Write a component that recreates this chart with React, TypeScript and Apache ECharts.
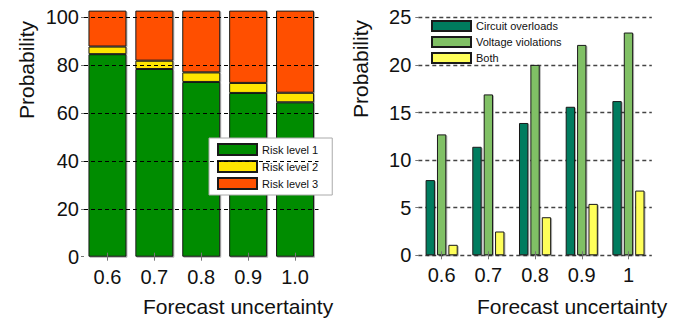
import React, { useEffect, useRef } from "react";
import * as echarts from "echarts";

const leftCategories = ["0.6", "0.7", "0.8", "0.9", "1.0"];
const risk1 = [84.6, 78.4, 73.0, 68.4, 64.5];
const risk2 = [3.2, 3.5, 4.0, 4.2, 4.0];
const risk3 = [15.0, 20.9, 25.8, 30.2, 34.3];

const rightCategories = ["0.6", "0.7", "0.8", "0.9", "1"];
const circuitOverloads = [7.9, 11.4, 13.9, 15.6, 16.2];
const voltageViolations = [12.7, 16.9, 20.0, 22.1, 23.4];
const bothViolations = [1.1, 2.5, 4.0, 5.4, 6.8];

const FONT = "Liberation Sans";

export default function App() {
  const ref = useRef<HTMLDivElement>(null);
  useEffect(() => {
    if (!ref.current) return;
    const chart = echarts.init(ref.current, undefined, { renderer: "svg" });
    const barBorder = {
      borderColor: "#1a1a1a", borderWidth: 1,
      shadowColor: "rgba(0,0,0,0.3)", shadowBlur: 0, shadowOffsetX: 1, shadowOffsetY: 1,
    };
    const tickStyle = { color: "#777", width: 1 };
    const option: any = {
      animation: false,
      backgroundColor: "#fff",
      textStyle: { fontFamily: FONT },
      grid: [
        { left: 84, right: 370.5, top: 17.3, bottom: 68.3 },
        { left: 418.3, right: 37.2, top: 17.3, bottom: 69.7 },
      ],
      xAxis: [
        {
          gridIndex: 0, type: "category", data: leftCategories, z: 5, position: "bottom",
          axisLine: { show: false },
          axisTick: { show: true, length: 4, lineStyle: tickStyle, alignWithLabel: true },
          axisLabel: { fontSize: 20, color: "#111", margin: 10, fontFamily: FONT },
        },
        {
          gridIndex: 0, type: "category", data: leftCategories, z: 5, position: "bottom",
          axisLine: { show: false },
          axisTick: { show: true, inside: true, length: 4, lineStyle: tickStyle, alignWithLabel: true },
          axisLabel: { show: false },
        },
        {
          gridIndex: 1, type: "category", data: rightCategories, z: 5, position: "bottom",
          axisLine: { show: false },
          axisTick: { show: true, length: 4, lineStyle: tickStyle, alignWithLabel: true },
          axisLabel: { fontSize: 20, color: "#111", margin: 10, fontFamily: FONT },
        },
        {
          gridIndex: 1, type: "category", data: rightCategories, z: 5, position: "bottom",
          axisLine: { show: false },
          axisTick: { show: true, inside: true, length: 4, lineStyle: tickStyle, alignWithLabel: true },
          axisLabel: { show: false },
        },
      ],
      yAxis: [
        {
          gridIndex: 0, type: "value", min: 0, max: 100, interval: 20, z: 5,
          axisLine: { show: false },
          axisTick: { show: true, length: 3, lineStyle: tickStyle },
          axisLabel: { fontSize: 20, color: "#111", margin: 5, fontFamily: FONT },
          splitLine: { show: true, showMinLine: false, lineStyle: { color: "#000", type: [4, 3], width: 1 } },
        },
        {
          gridIndex: 1, type: "value", min: 0, max: 25, interval: 5,
          axisLine: { show: false },
          axisTick: { show: true, length: 3, lineStyle: tickStyle },
          axisLabel: { fontSize: 20, color: "#111", margin: 7, fontFamily: FONT },
          splitLine: { show: true, lineStyle: { color: "#444", type: [4, 3], width: 1.3 } },
        },
      ],
      legend: [
        {
          data: ["Risk level 1", "Risk level 2", "Risk level 3"],
          orient: "vertical", left: 209, top: 138,
          padding: [5, 14, 5, 8],
          itemWidth: 39, itemHeight: 11, itemGap: 4,
          backgroundColor: "#fff", borderColor: "#aaa", borderWidth: 1,
          textStyle: { fontSize: 11, lineHeight: 11, color: "#111", fontFamily: FONT },
          icon: "rect",
        },
        {
          data: ["Circuit overloads", "Voltage violations", "Both"],
          orient: "vertical", left: 431, top: 20,
          padding: 0,
          itemWidth: 39, itemHeight: 10, itemGap: 4,
          textStyle: { fontSize: 11, lineHeight: 11, color: "#111", fontFamily: FONT },
          icon: "rect",
        },
      ],
      series: [
        {
          name: "Risk level 1", type: "bar", stack: "risk", data: risk1,
          xAxisIndex: 0, yAxisIndex: 0, barWidth: "81%", clip: false,
          itemStyle: { color: "#008c00", ...barBorder },
        },
        {
          name: "Risk level 2", type: "bar", stack: "risk", data: risk2,
          xAxisIndex: 0, yAxisIndex: 0, barWidth: "81%", clip: false,
          itemStyle: { color: "#ffe500", ...barBorder },
        },
        {
          name: "Risk level 3", type: "bar", stack: "risk", data: risk3,
          xAxisIndex: 0, yAxisIndex: 0, barWidth: "81%", clip: false,
          itemStyle: { color: "#ff5000", ...barBorder },
        },
        {
          name: "Circuit overloads", type: "bar", data: circuitOverloads,
          xAxisIndex: 2, yAxisIndex: 1, barWidth: "20%", barGap: "22%",
          itemStyle: { color: "#007c5e", ...barBorder },
        },
        {
          name: "Voltage violations", type: "bar", data: voltageViolations,
          xAxisIndex: 2, yAxisIndex: 1, barWidth: "20%", barGap: "22%",
          itemStyle: { color: "#80c065", ...barBorder },
        },
        {
          name: "Both", type: "bar", data: bothViolations,
          xAxisIndex: 2, yAxisIndex: 1, barWidth: "20%", barGap: "22%",
          itemStyle: { color: "#ffff5a", ...barBorder },
        },
      ],
      graphic: [
        {
          type: "text", x: 26, y: 70, rotation: Math.PI / 2,
          style: { text: "Probability", fontSize: 21, fontFamily: FONT, fill: "#111", align: "center", verticalAlign: "middle", textAlign: "center", textVerticalAlign: "middle" },
        },
        {
          type: "text", x: 360, y: 69, rotation: Math.PI / 2,
          style: { text: "Probability", fontSize: 21, fontFamily: FONT, fill: "#111", align: "center", verticalAlign: "middle", textAlign: "center", textVerticalAlign: "middle" },
        },
        {
          type: "text", x: 238, y: 306,
          style: { text: "Forecast uncertainty", fontSize: 21, fontFamily: FONT, fill: "#111", align: "center", verticalAlign: "middle", textAlign: "center", textVerticalAlign: "middle" },
        },
        {
          type: "text", x: 572, y: 306,
          style: { text: "Forecast uncertainty", fontSize: 21, fontFamily: FONT, fill: "#111", align: "center", verticalAlign: "middle", textAlign: "center", textVerticalAlign: "middle" },
        },
      ],
    };
    chart.setOption(option);
    return () => chart.dispose();
  }, []);
  return <div ref={ref} style={{ position: "fixed", left: 0, top: 0, width: 689, height: 325 }} />;
}
